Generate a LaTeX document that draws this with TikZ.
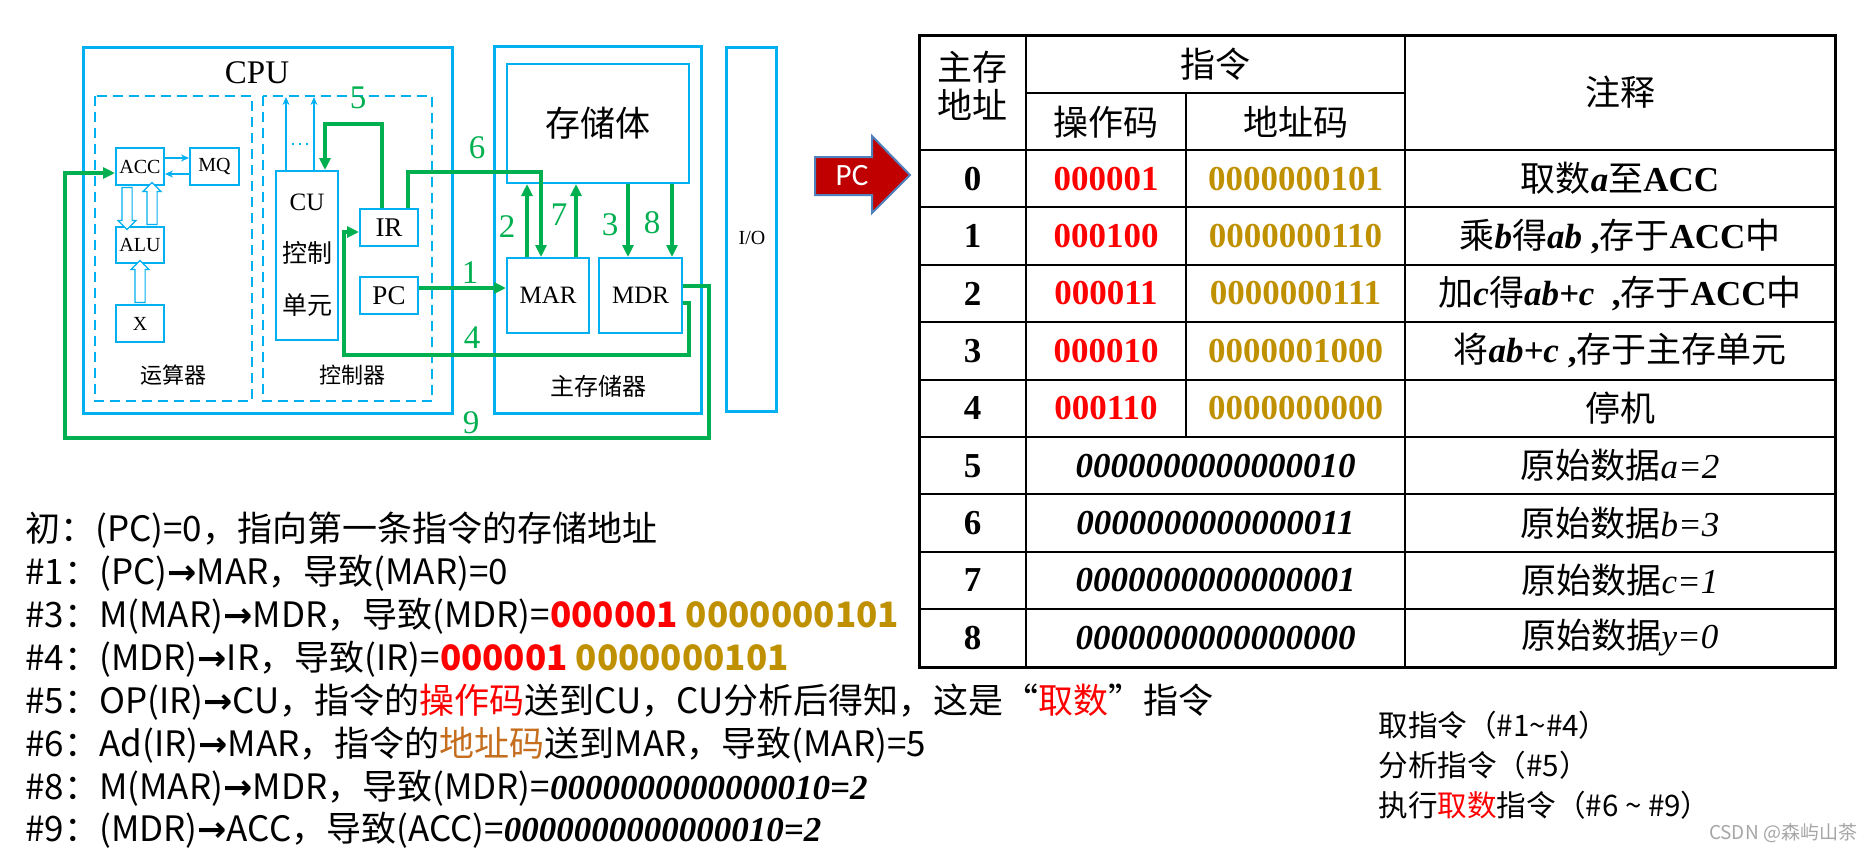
\documentclass[tikz,border=0pt]{standalone}
\usepackage{fontspec}
\setmainfont{Liberation Serif}
\newfontfamily\cjk{Noto Sans CJK SC}
\newfontfamily\pcfont{Carlito}
\newfontfamily\arrowfont{DejaVu Sans}
\usetikzlibrary{arrows.meta,calc,shapes.arrows}
\definecolor{cpublue}{RGB}{0,176,240}
\definecolor{flowgreen}{RGB}{0,176,80}
\definecolor{opred}{RGB}{255,0,0}
\definecolor{adgold}{RGB}{191,144,0}
\definecolor{adbrown}{RGB}{197,110,30}
\definecolor{pcred}{RGB}{192,0,0}
\definecolor{pcedge}{RGB}{79,129,189}
\newcommand\fsz[2]{\fontsize{#1}{#2}\selectfont}
\newcommand\zh[1]{{\cjk\mdseries #1}}
\newcommand\ar{{\arrowfont\bfseries →}}
\tikzset{
  reg/.style={draw=cpublue, line width=1pt, inner sep=0pt, font=\fsz{10}{12}},
  outer/.style={draw=cpublue, line width=1.5pt},
  dashbox/.style={draw=cpublue, line width=1pt, dash pattern=on 5pt off 3pt},
  wire/.style={cpublue, line width=0.8pt, -{Stealth[length=4pt,width=3.5pt]}},
  fatarrow/.style={single arrow, draw=cpublue, fill=white, line width=0.6pt, inner sep=0pt,
    text width=0pt, text height=4.5pt, text depth=0pt,
    single arrow head extend=2pt, minimum height=21pt, minimum width=0pt},
  flow/.style={flowgreen, line width=2pt, -{Triangle[length=6pt,width=5.5pt]}},
  flowno/.style={text=flowgreen, font=\fsz{16.5}{20}, inner sep=0pt},
  tabtext/.style={font=\fsz{17.5}{21}\bfseries, inner sep=0pt},
  tabline/.style={line width=1pt},
  note/.style={anchor=west, inner sep=0pt, font=\cjk\fsz{17.5}{21}},
}
\begin{document}
\begin{tikzpicture}[x=0.5pt, y=-0.5pt]
\useasboundingbox[fill=white] (0,0) rectangle (1866,852);

% CPU frame
\draw[outer] (83,47) rectangle (452,413);
\draw[dashbox] (95,96) rectangle (252,401);
\draw[dashbox] (263,96) rectangle (432,401);
\node[font=\fsz{16.5}{20}] (cputitle) at (257,73) {CPU};
\node[font=\cjk\fsz{11}{13}] (alutitle) at (173,375) {运算器};
\node[font=\cjk\fsz{11}{13}] (cutitle) at (352,375) {控制器};

\node[reg, minimum width=24pt, minimum height=18.5pt] (ACC) at (140,166.5) {ACC};
\node[reg, minimum width=24.5pt, minimum height=18.5pt] (MQ) at (214.5,166.5) {MQ};
\node[reg, minimum width=24pt, minimum height=18pt] (ALU) at (140,245) {ALU};
\node[reg, minimum width=24pt, minimum height=18.5pt] (X) at (140,323.5) {X};
\node[reg, minimum width=31pt, minimum height=84.5pt, align=center, font=\fsz{12.5}{26}] (CU) at (307,255.5) {CU\\\zh{控制}\\\zh{单元}};
\node[reg, minimum width=29pt, minimum height=18.5pt, font=\fsz{13.5}{16}] (IR) at (389,227.5) {IR};
\node[reg, minimum width=29pt, minimum height=18.5pt, font=\fsz{13.5}{16}] (PC) at (389,295.5) {PC};

\draw[wire] ($(ACC.east)+(0,-8.5)$) -- ($(MQ.west)+(0,-8.5)$);
\draw[wire] ($(MQ.west)+(0,7.5)$) -- ($(ACC.east)+(0,7.5)$);
\node[fatarrow, rotate=-90] (accalu) at ($(ACC.south)!0.5!(ALU.north)+(-13,0)$) {};
\node[fatarrow, rotate=90] (aluacc) at ($(ACC.south)!0.5!(ALU.north)+(12,0)$) {};
\node[fatarrow, rotate=90] (xalu) at ($(ALU.south)!0.5!(X.north)$) {};
\coordinate (cuout1) at (286,97);
\coordinate (cuout2) at (314,97);
\draw[wire] (CU.north -| cuout1) -- (cuout1);
\draw[wire] (CU.north -| cuout2) -- (cuout2);
\draw[cpublue, line width=1pt, dash pattern=on 1pt off 2.5pt] (292,144) -- (311,144);

% main memory and I/O
\draw[outer] (494,46) rectangle (701,413);
\draw[outer] (726,47) rectangle (776,411);
\node[reg, minimum width=91pt, minimum height=59.5pt, font=\cjk\fsz{17.5}{21}] (store) at (598,123.5) {存储体};
\node[reg, minimum width=41pt, minimum height=37.5pt, font=\fsz{12.5}{15}] (MAR) at (548,295.5) {MAR};
\node[reg, minimum width=41.5pt, minimum height=37.5pt, font=\fsz{12.5}{15}] (MDR) at (640.5,295.5) {MDR};
\node[font=\cjk\fsz{12}{14}] (memtitle) at (598,386) {主存储器};
\node[font=\fsz{10}{12}] (io) at (752,238) {I/O};

% data flow
\draw[flow] ($(PC.east)+(0,-7.5)$) -- ($(MAR.west)+(0,-7.5)$);
\coordinate (t2) at ($(MAR.north)+(-21,0)$);
\draw[flow] (t2) -- (t2 |- store.south);
\coordinate (t7) at ($(MAR.north)+(28,0)$);
\draw[flow] (t7) -- (t7 |- store.south);
\coordinate (t3) at ($(MDR.north)+(-12.5,0)$);
\draw[flow] (t3 |- store.south) -- (t3);
\coordinate (t8) at ($(MDR.north)+(31.5,0)$);
\draw[flow] (t8 |- store.south) -- (t8);
\coordinate (b4) at (689,355);
\draw[flow] ($(MDR.east)+(0,7.5)$) -| (b4) -| ($(IR.west)+(-15,4.5)$) -- ($(IR.west)+(0,4.5)$);
\coordinate (b5) at (325,124);
\draw[flow] ($(IR.north)+(-7,0)$) |- (b5) -- (b5 |- CU.north);
\coordinate (b6) at (541,172);
\draw[flow] ($(IR.north)+(19,0)$) |- (b6) -- (b6 |- MAR.north);
\coordinate (b9) at (709,438);
\draw[flow] ($(MDR.east)+(0,-9.5)$) -| (b9) -| ($(ACC.west)+(-50,6.5)$) -- ($(ACC.west)+(0,6.5)$);

\node[flowno] (f1) at (470,273) {1};
\node[flowno] (f2) at (507,227) {2};
\node[flowno] (f3) at (610,225) {3};
\node[flowno] (f4) at (472,338) {4};
\node[flowno] (f5) at (358,98) {5};
\node[flowno] (f6) at (477,148) {6};
\node[flowno] (f7) at (559,215) {7};
\node[flowno] (f8) at (652,223) {8};
\node[flowno] (f9) at (471,423) {9};

% PC pointer
\draw[fill=pcred, draw=pcedge, line width=1pt] (815,157) -- (872,157) -- (872,136) -- (910,175)
  -- (872,213) -- (872,195) -- (815,195) -- cycle;
\node[text=white, font=\pcfont\fsz{15.5}{18}] (pcptr) at (852,176) {PC};

% memory table
\draw[line width=1.5pt] (919,35) rectangle (1835,667);
\draw[tabline] (1026,35) -- (1026,667);
\draw[tabline] (1405,35) -- (1405,667);
\draw[tabline] (1026,93) -- (1405,93);
\draw[tabline] (1186,93) -- (1186,437);
\foreach \i in {0,...,8}
  \draw[tabline] (919,{150+57.4*\i}) -- (1835,{150+57.4*\i});
\node[tabtext, align=center, font=\cjk\mdseries\fsz{17.5}{19}] (haddr) at (972.5,86) {主存\\地址};
\node[tabtext, font=\cjk\mdseries\fsz{17.5}{21}] (hins) at (1215.5,64) {指令};
\node[tabtext, font=\cjk\mdseries\fsz{17.5}{21}] (hop) at (1106,122) {操作码};
\node[tabtext, font=\cjk\mdseries\fsz{17.5}{21}] (had) at (1295.5,122) {地址码};
\node[tabtext, font=\cjk\mdseries\fsz{17.5}{21}] (hnote) at (1620,92) {注释};
\foreach \n/\op/\ad/\cm in {0/000001/0000000101/{\zh{取数}\textit{a}\zh{至}ACC},
    1/000100/0000000110/{\zh{乘}\textit{b}\zh{得}\textit{ab} ,\zh{存于}ACC\zh{中}},
    2/000011/0000000111/{\zh{加}\textit{c}\zh{得}\textit{ab+c}\ \ ,\zh{存于}ACC\zh{中}},
    3/000010/0000001000/{\zh{将}\textit{ab+c} ,\zh{存于主存单元}},
    4/000110/0000000000/{\zh{停机}}}{
  \node[tabtext] (num\n) at (972.5,{178.7+57.4*\n}) {\n};
  \node[tabtext, text=opred] (op\n) at (1106,{178.7+57.4*\n}) {\op};
  \node[tabtext, text=adgold] (ad\n) at (1295.5,{178.7+57.4*\n}) {\ad};
  \node[tabtext] (cm\n) at (1620,{178.7+57.4*\n}) {\cm};
}
\foreach \n/\dat/\cm in {5/0000000000000010/a=2, 6/0000000000000011/b=3,
    7/0000000000000001/c=1, 8/0000000000000000/y=0}{
  \node[tabtext] (num\n) at (972.5,{178.7+57.4*\n}) {\n};
  \node[tabtext] (dat\n) at (1215.5,{178.7+57.4*\n}) {\itshape\dat};
  \node[tabtext] (cm\n) at (1620,{178.7+57.4*\n}) {\zh{原始数据}\mdseries\itshape\cm};
}

% steps
\node[note] (s0) at (25,530) {初：(PC)=0，指向第一条指令的存储地址};
\node[note] (s1) at (25,573) {\#1：(PC)\ar MAR，导致(MAR)=0};
\node[note] (s3) at (25,616) {\#3：M(MAR)\ar MDR，导致(MDR)={\bfseries\color{opred}000001} {\bfseries\color{adgold}0000000101}};
\node[note] (s4) at (25,659) {\#4：(MDR)\ar IR，导致(IR)={\bfseries\color{opred}000001} {\bfseries\color{adgold}0000000101}};
\node[note] (s5) at (25,702) {\#5：OP(IR)\ar CU，指令的\textcolor{opred}{操作码}送到CU，CU分析后得知，这是“\textcolor{opred}{取数}”指令};
\node[note] (s6) at (25,745) {\#6：Ad(IR)\ar MAR，指令的\textcolor{adbrown}{地址码}送到MAR，导致(MAR)=5};
\node[note] (s8) at (25,788) {\#8：M(MAR)\ar MDR，导致(MDR)={\rmfamily\bfseries\itshape 0000000000000010=2}};
\node[note] (s9) at (25,830) {\#9：(MDR)\ar ACC，导致(ACC)={\rmfamily\bfseries\itshape 0000000000000010=2}};

\node[note, align=left, font=\cjk\fsz{14.8}{20}] (phases) at (1378,765)
  {取指令（\#1\textasciitilde\#4）\\分析指令（\#5）\\执行\textcolor{opred}{取数}指令（\#6 \textasciitilde{} \#9）};
\node[text=gray!70, font=\cjk\fsz{9.5}{11}] (csdn) at (1783,833) {CSDN @森屿山茶};
\end{tikzpicture}
\end{document}
